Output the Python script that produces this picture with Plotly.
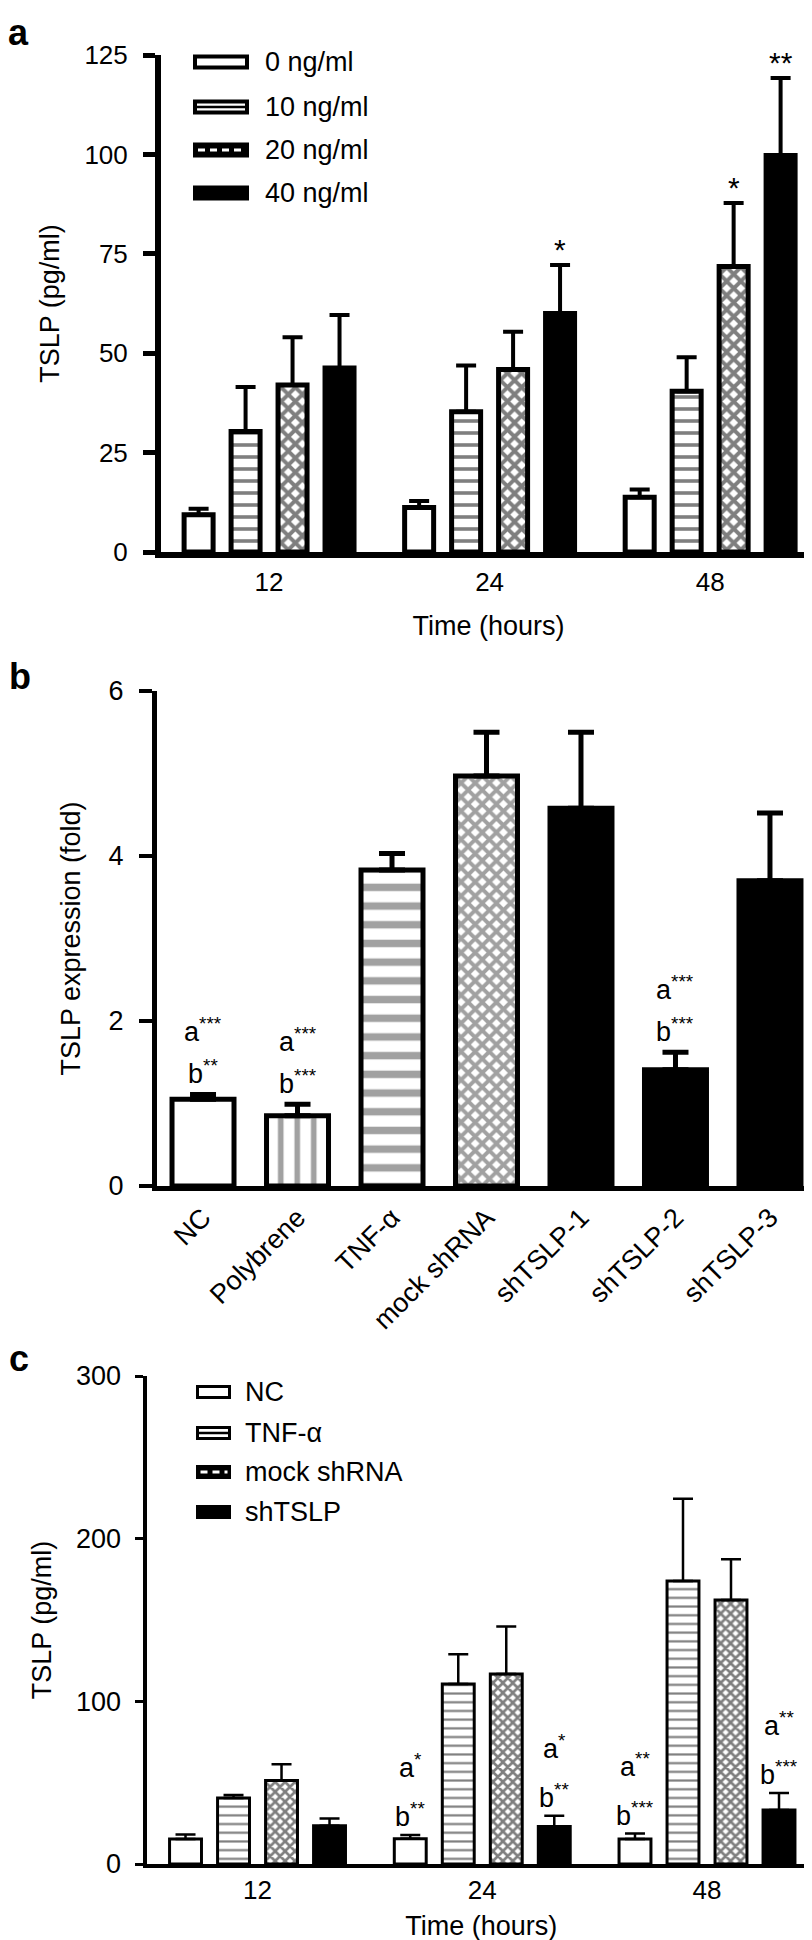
import plotly.graph_objects as go

FONT = "Liberation Sans, Arial, Helvetica, sans-serif"
W, H = 812, 1940

# ---------------- data: panel a ----------------
a_times = ["12", "24", "48"]
a_labels = ["0 ng/ml", "10 ng/ml", "20 ng/ml", "40 ng/ml"]
a_0ng = [9.4, 11.2, 13.8]
a_0ng_err = [1.5, 1.6, 1.9]
a_10ng = [30.3, 35.3, 40.4]
a_10ng_err = [11.2, 11.6, 8.6]
a_20ng = [42.0, 45.9, 71.8]
a_20ng_err = [12.0, 9.5, 16.0]
a_40ng = [46.3, 60.0, 99.7]
a_40ng_err = [13.3, 12.2, 19.5]
a_20ng_sig = ["", "", "*"]
a_40ng_sig = ["", "*", "**"]
a_yticks = [0, 25, 50, 75, 100, 125]

# ---------------- data: panel b ----------------
b_groups = ["NC", "Polybrene", "TNF-α", "mock shRNA", "shTSLP-1", "shTSLP-2", "shTSLP-3"]
b_values = [1.05, 0.85, 3.83, 4.97, 4.58, 1.41, 3.70]
b_errors = [0.06, 0.14, 0.20, 0.53, 0.92, 0.21, 0.82]
b_sig_a = ["a***", "a***", "", "", "", "a***", ""]
b_sig_b = ["b**", "b***", "", "", "", "b***", ""]
b_yticks = [0, 2, 4, 6]

# ---------------- data: panel c ----------------
c_times = ["12", "24", "48"]
c_labels = ["NC", "TNF-α", "mock shRNA", "shTSLP"]
c_nc = [15.3, 15.5, 15.3]
c_nc_err = [2.9, 2.3, 3.4]
c_tnf = [40.5, 110.7, 174.0]
c_tnf_err = [1.9, 18.2, 50.6]
c_mock = [51.4, 116.8, 162.3]
c_mock_err = [9.9, 29.2, 25.0]
c_sh = [23.5, 23.0, 33.2]
c_sh_err = [4.4, 6.6, 10.4]
c_nc_sig_a = ["", "a*", "a**"]
c_nc_sig_b = ["", "b**", "b***"]
c_sh_sig_a = ["", "a*", "a**"]
c_sh_sig_b = ["", "b**", "b***"]
c_yticks = [0, 100, 200, 300]


def px(x):
    return x / W


def py(y):
    return 1 - y / H


fig = go.Figure()
annotations = []
shapes = []

# ---------------- panel a bars ----------------
A_PITCH, A_W = 0.213, 0.1315
a_series = [
    (a_0ng, a_0ng_err, dict(color="white")),
    (a_10ng, a_10ng_err, dict(color="white", pattern=dict(shape="-", size=12, solidity=0.3, fgcolor="black", bgcolor="white"))),
    (a_20ng, a_20ng_err, dict(color="white", pattern=dict(shape="x", size=10, solidity=0.62, fgcolor="black", bgcolor="white"))),
    (a_40ng, a_40ng_err, dict(color="black")),
]
for i, (vals, errs, mk) in enumerate(a_series):
    center = (i - 1.5) * A_PITCH
    fig.add_trace(go.Bar(
        x=a_times, y=vals, name=a_labels[i], offset=center - A_W / 2, width=A_W,
        marker=dict(line=dict(color="black", width=5), **mk),
        error_y=dict(type="data", symmetric=False, array=errs, arrayminus=[0] * len(errs),
                     color="black", thickness=4, width=10),
        xaxis="x", yaxis="y", showlegend=False,
    ))

for i, (sig, vals, errs) in [(2, (a_20ng_sig, a_20ng, a_20ng_err)), (3, (a_40ng_sig, a_40ng, a_40ng_err))]:
    center = (i - 1.5) * A_PITCH
    for k, s in enumerate(sig):
        if s:
            annotations.append(dict(x=k + center, y=vals[k] + errs[k], xref="x", yref="y",
                                    text=s, showarrow=False, yanchor="bottom", yshift=-3,
                                    font=dict(size=30, color="black", family=FONT)))

# ---------------- panel b bars ----------------
B_W = 0.656
fig.add_trace(go.Bar(
    x=b_groups, y=b_values, width=B_W, name="TSLP expression",
    marker=dict(
        color=["white", "white", "white", "white", "black", "black", "black"],
        line=dict(color="black", width=5),
        pattern=dict(shape=["", "|", "-", "x", "", "", ""],
                     size=[10, 16.5, 18.7, 10, 10, 10, 10],
                     solidity=[0.3, 0.34, 0.4, 0.62, 0.3, 0.3, 0.3],
                     fgcolor="black"),
    ),
    error_y=dict(type="data", symmetric=False, array=b_errors, arrayminus=[0] * len(b_errors),
                 color="black", thickness=5, width=13),
    xaxis="x2", yaxis="y2", showlegend=False,
))
for k in range(len(b_groups)):
    top = b_values[k] + b_errors[k]
    if b_sig_a[k]:
        annotations.append(dict(x=k, y=top, xref="x2", yref="y2",
                                text=b_sig_a[k][0] + "<sup>" + b_sig_a[k][1:] + "</sup>",
                                showarrow=False, yanchor="middle", yshift=64,
                                font=dict(size=27, color="black", family=FONT)))
    if b_sig_b[k]:
        annotations.append(dict(x=k, y=top, xref="x2", yref="y2",
                                text=b_sig_b[k][0] + "<sup>" + b_sig_b[k][1:] + "</sup>",
                                showarrow=False, yanchor="middle", yshift=22,
                                font=dict(size=27, color="black", family=FONT)))

# ---------------- panel c bars ----------------
C_PITCH, C_W = 0.2136, 0.142
c_series = [
    (c_nc, c_nc_err, dict(color="white")),
    (c_tnf, c_tnf_err, dict(color="white", pattern=dict(shape="-", size=8.7, solidity=0.25, fgcolor="black", bgcolor="white"))),
    (c_mock, c_mock_err, dict(color="white", pattern=dict(shape="x", size=7, solidity=0.62, fgcolor="black", bgcolor="white"))),
    (c_sh, c_sh_err, dict(color="black")),
]
for i, (vals, errs, mk) in enumerate(c_series):
    center = (i - 1.5) * C_PITCH
    fig.add_trace(go.Bar(
        x=c_times, y=vals, name=c_labels[i], offset=center - C_W / 2, width=C_W,
        marker=dict(line=dict(color="black", width=3), **mk),
        error_y=dict(type="data", symmetric=False, array=errs, arrayminus=[0] * len(errs),
                     color="black", thickness=2.5, width=10),
        xaxis="x3", yaxis="y3", showlegend=False,
    ))

for i, sa, sb, vals, errs in [(0, c_nc_sig_a, c_nc_sig_b, c_nc, c_nc_err),
                              (3, c_sh_sig_a, c_sh_sig_b, c_sh, c_sh_err)]:
    center = (i - 1.5) * C_PITCH
    for k in range(len(vals)):
        top = vals[k] + errs[k]
        for txt, shift in [(sa[k], 69), (sb[k], 20)]:
            if txt:
                annotations.append(dict(x=k + center, y=top, xref="x3", yref="y3",
                                        text=txt[0] + "<sup>" + txt[1:] + "</sup>",
                                        showarrow=False, yanchor="middle", yshift=shift,
                                        font=dict(size=27, color="black", family=FONT)))

# ---------------- custom legends (shapes + text) ----------------
def legend_box(x0, x1, yc, kind, lw):
    y0, y1 = yc - 5.5, yc + 5.5
    fill = "black" if kind in ("dash", "solid") else "white"
    shapes.append(dict(type="rect", xref="paper", yref="paper",
                       x0=px(x0), x1=px(x1), y0=py(y1), y1=py(y0),
                       line=dict(color="black", width=lw), fillcolor=fill))
    if kind == "line":
        shapes.append(dict(type="line", xref="paper", yref="paper",
                           x0=px(x0), x1=px(x1), y0=py(yc), y1=py(yc),
                           line=dict(color="black", width=2.5)))
    if kind == "dash":
        shapes.append(dict(type="line", xref="paper", yref="paper",
                           x0=px(x0 + 3), x1=px(x1 - 2), y0=py(yc), y1=py(yc),
                           line=dict(color="white", width=3, dash="7px,5px")))


kinds = ["open", "line", "dash", "solid"]
for j, (lab, yc) in enumerate(zip(a_labels, [54, 99, 142, 185])):
    legend_box(187, 239, yc, kinds[j], 4)
    annotations.append(dict(x=px(255), y=py(yc), xref="paper", yref="paper", text=lab,
                            showarrow=False, xanchor="left", yanchor="middle",
                            font=dict(size=27, color="black", family=FONT)))
for j, (lab, yc) in enumerate(zip(c_labels, [1384, 1425, 1464, 1504])):
    legend_box(189.5, 221.5, yc, kinds[j], 3)
    annotations.append(dict(x=px(235), y=py(yc), xref="paper", yref="paper", text=lab,
                            showarrow=False, xanchor="left", yanchor="middle",
                            font=dict(size=27, color="black", family=FONT)))

# panel letters
for letter, x, y in [("a", 10, 25), ("b", 12, 668), ("c", 11, 1350)]:
    annotations.append(dict(x=px(x), y=py(y), xref="paper", yref="paper", text="<b>" + letter + "</b>",
                            showarrow=False, xanchor="center", yanchor="middle",
                            font=dict(size=36, color="black", family=FONT)))

# ---------------- axes ----------------
def xax(domain, rng, lw, angle=0, title=None, standoff=0, lstand=0):
    d = dict(domain=domain, range=rng, type="category", showline=True, linecolor="black", linewidth=lw,
             ticks="", showgrid=False, zeroline=False, tickangle=angle, ticklabelstandoff=lstand,
             tickfont=dict(size=26 if angle == 0 else 27, color="black", family=FONT))
    if title:
        d["title"] = dict(text=title, font=dict(size=27, color="black", family=FONT), standoff=standoff)
    return d


def yax(domain, rng, tickvals, lw, ticklen, tickw, title, standoff, fs, lstand):
    return dict(domain=domain, range=rng, tickvals=tickvals, showline=True, linecolor="black", linewidth=lw,
                ticks="outside", ticklen=ticklen, tickwidth=tickw, tickcolor="black",
                showgrid=False, zeroline=False, ticklabelstandoff=lstand,
                tickfont=dict(size=fs, color="black", family=FONT),
                title=dict(text=title, font=dict(size=27, color="black", family=FONT), standoff=standoff))


fig.update_layout(
    width=W, height=H, autosize=False,
    margin=dict(l=0, r=0, t=0, b=0),
    paper_bgcolor="white", plot_bgcolor="white",
    barmode="overlay",
    font=dict(family=FONT, color="black", size=27),
    xaxis=xax([px(153), px(808)], [-0.49, 2.48], 6, title="Time (hours)", standoff=22, lstand=2),
    yaxis=yax([py(544), py(47)], [0, 125], a_yticks, 6, 12, 5, "TSLP (pg/ml)", 19, 26, 10),
    xaxis2=xax([px(149), px(808)], [-0.487, 6.487], 5, angle=-45),
    yaxis2=yax([py(1178), py(683)], [0, 6], b_yticks, 5, 13, 4, "TSLP expression (fold)", 22, 27, 10),
    xaxis3=xax([px(138.5), px(808)], [-0.494, 2.485], 4, title="Time (hours)", standoff=13, lstand=0),
    yaxis3=yax([py(1856), py(1368)], [0, 300], c_yticks, 4, 8, 3, "TSLP (pg/ml)", 18, 27, 8),
    annotations=annotations,
    shapes=shapes,
)
fig.update_xaxes(automargin=False)
fig.update_yaxes(automargin=False)
fig.update_layout(xaxis2_anchor="y2", yaxis2_anchor="x2", xaxis3_anchor="y3", yaxis3_anchor="x3",
                  xaxis_anchor="y", yaxis_anchor="x")

fig.write_html("out.html")
